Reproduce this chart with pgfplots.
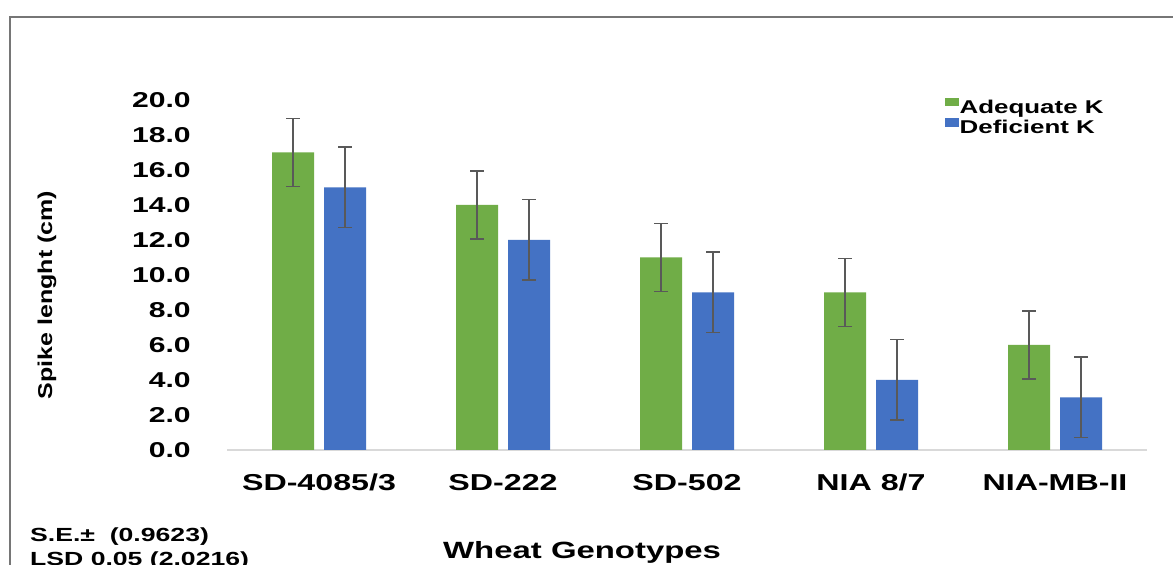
\documentclass[border=0pt]{standalone}
\usepackage{fontspec}
\usepackage{pgfplots}
\pgfplotsset{compat=1.18}
\setmainfont{Liberation Sans}
\newfontfamily\wide{Liberation Sans}[FakeStretch=1.4]
\newfontfamily\ywide{Liberation Sans}[FakeStretch=1.25]
\definecolor{cgreen}{HTML}{70AD47}
\definecolor{cblue}{HTML}{4472C4}
\definecolor{cerr}{HTML}{595959}
\definecolor{caxis}{HTML}{D9D9D9}
\definecolor{cframe}{HTML}{767676}
\begin{document}
\begin{tikzpicture}
\useasboundingbox (0pt,0pt) rectangle (1173pt,565pt);
\fill[white] (0pt,0pt) rectangle (1173pt,565pt);
\draw[cframe, line width=1.6pt] (10pt,-20pt) -- (10pt,548pt) -- (1200pt,548pt);
\begin{axis}[
  at={(227pt,115pt)}, anchor=south west,
  width=920pt, height=350pt, scale only axis,
  xmin=-0.5, xmax=4.5, ymin=0, ymax=20,
  ybar=10pt, bar width=42pt,
  axis lines=left,
  axis line style={-},
  x axis line style={draw=caxis, line width=1.5pt},
  y axis line style={draw=none},
  xtick={0,1,2,3,4},
  xticklabels={SD-4085/3, SD-222, SD-502, NIA 8/7, NIA-MB-II},
  major x tick style={draw=none},
  extra x ticks={-0.5,0.5,1.5,2.5,3.5,4.5},
  extra x tick labels={},
  extra x tick style={major tick length=7pt, tick align=outside, tick style={draw=caxis, line width=1.5pt}},
  ytick={0,2,...,20},
  major y tick style={draw=none},
  /pgf/number format/assume math mode=true,
  yticklabel style={/pgf/number format/fixed, /pgf/number format/fixed zerofill, /pgf/number format/precision=1,
    font=\wide\bfseries\fontsize{21.5}{24}\selectfont, anchor=east, inner sep=0pt, xshift=-34pt},
  xticklabel style={font=\wide\bfseries\fontsize{23}{26}\selectfont, anchor=base, inner sep=0pt, yshift=-38pt},
  xlabel={Wheat Genotypes},
  xlabel style={font=\wide\bfseries\fontsize{23.5}{26}\selectfont, at={(axis description cs:0.386,-0.3086)}, anchor=base, inner sep=0pt},
  ylabel={Spike lenght (cm)},
  ylabel style={font=\ywide\bfseries\fontsize{20}{24}\selectfont, at={(axis description cs:-0.1957,0.443)}, anchor=center, inner sep=0pt},
  legend style={at={(axis description cs:0.7804,1.0066)}, anchor=north west, draw=none, fill=none, inner sep=0pt, row sep=0pt,
    font=\wide\bfseries\fontsize{18.5}{20}\selectfont,
    nodes={inner sep=1pt, text height=13pt, text depth=4pt}},
  legend cell align=left,
  legend image code/.code={\fill[#1] (0pt,2.4pt) rectangle (13.5pt,11pt);},
  error bars/y dir=both, error bars/y explicit,
  error bars/error bar style={cerr, line width=1.5pt},
  error bars/error mark options={cerr, line width=1.5pt, mark size=7pt, rotate=90},
  clip=false,
]
\addplot[fill=cgreen, draw=none] coordinates {
  (0,17) +- (0,1.95)
  (1,14) +- (0,1.95)
  (2,11) +- (0,1.95)
  (3,9)  +- (0,1.95)
  (4,6)  +- (0,1.95)
};
\addplot[fill=cblue, draw=none] coordinates {
  (0,15) +- (0,2.3)
  (1,12) +- (0,2.3)
  (2,9)  +- (0,2.3)
  (3,4)  +- (0,2.3)
  (4,3)  +- (0,2.3)
};
\legend{Adequate K, Deficient K}
\end{axis}
\node[anchor=base west, inner sep=0pt, font=\wide\bfseries\fontsize{19}{22}\selectfont] at (30pt,23pt) {S.E.± \ (0.9623)};
\node[anchor=base west, inner sep=0pt, font=\wide\bfseries\fontsize{19}{22}\selectfont] at (30pt,-0.5pt) {LSD 0.05 (2.0216)};
\end{tikzpicture}
\end{document}
